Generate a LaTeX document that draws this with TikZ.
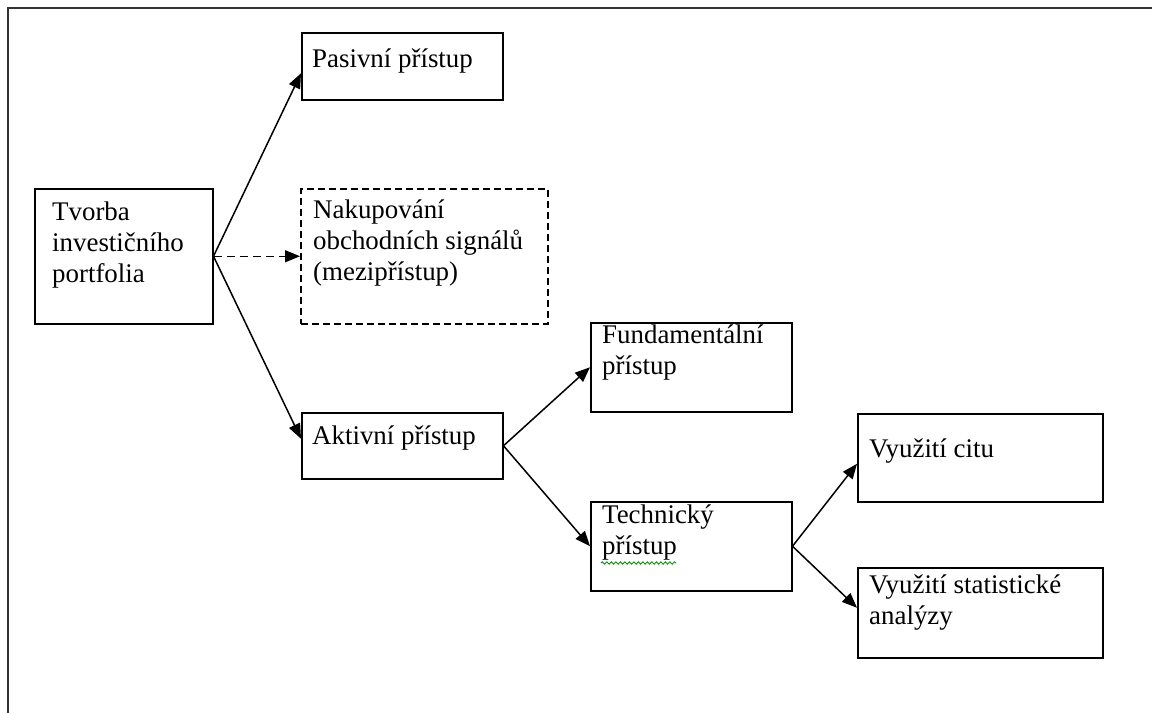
\documentclass[tikz,border=0pt]{standalone}
\usepackage{fontspec}
\setmainfont{Liberation Serif}
\usepackage{tikz}
\usetikzlibrary{arrows.meta,positioning,calc,decorations.pathmorphing}

\begin{document}
\begin{tikzpicture}[
    x=1pt, y=-1pt,
    box/.style={draw, rectangle, line width=1.5pt, inner sep=0pt, anchor=north west},
    dbox/.style={box, dash pattern=on 7pt off 4pt},
    txt/.style={anchor=north west, inner sep=0pt, align=left,
        font=\fontsize{26.9}{31}\selectfont, execute at begin node=\strut},
    conn/.style={line width=1.5pt, -{Triangle[length=15pt,width=12pt]}},
    dconn/.style={conn, dash pattern=on 8pt off 5pt}
]
    \useasboundingbox (0,0) rectangle (1152,713);

    % outer frame
    \draw[line width=2pt, black!80] (8,713) -- (8,8) -- (1152,8);

    % boxes
    \node[box, minimum width=178, minimum height=135] (tvorba) at (34,188) {};
    \node[box, minimum width=201, minimum height=67] (pasivni) at (301,32) {};
    \node[dbox, minimum width=247, minimum height=135] (nakup) at (300,188) {};
    \node[box, minimum width=201, minimum height=66] (aktivni) at (301,412) {};
    \node[box, minimum width=201, minimum height=89] (fundam) at (590,322) {};
    \node[box, minimum width=201, minimum height=89] (technic) at (590,501) {};
    \node[box, minimum width=245, minimum height=88] (cit) at (857,413) {};
    \node[box, minimum width=245, minimum height=90] (statist) at (857,567) {};

    % texts
    \node[txt] (tvorbaT) at ([shift={(18,13.3)}]tvorba.north west) {Tvorba\\investičního\\portfolia};
    \node[txt] (pasivniT) at ([shift={(11,13.3)}]pasivni.north west) {Pasivní přístup};
    \node[txt] (nakupT) at ([shift={(13,11.3)}]nakup.north west) {Nakupování\\obchodních signálů\\(mezipřístup)};
    \node[txt] (aktivniT) at ([shift={(11,10.3)}]aktivni.north west) {Aktivní přístup};
    \node[txt] (fundamT) at ([shift={(12,3)}]fundam.north west) {Fundamentální\\přístup};
    \node[txt] (technicT) at ([shift={(12,4)}]technic.north west) {Technický\\přístup};
    \node[txt] (citT) at ([shift={(12,23)}]cit.north west) {Využití citu};
    \node[txt] (statistT) at ([shift={(12,8)}]statist.north west) {Využití statistické\\analýzy};

    % spell-check underline
    \draw[green!60!black, line width=0.9pt, decorate,
        decoration={snake, amplitude=1.2pt, segment length=4.5pt}]
        ([shift={(11,62)}]technic.north west) -- ([shift={(86,62)}]technic.north west);

    % connectors
    \draw[conn] (tvorba.east) -- ([yshift=-7pt]pasivni.west);
    \draw[dconn] (tvorba.east) -- (nakup.west);
    \draw[conn] (tvorba.east) -- ([yshift=7pt]aktivni.west);
    \draw[conn] (aktivni.east) -- (fundam.west);
    \draw[conn] (aktivni.east) -- (technic.west);
    \draw[conn] (technic.east) -- ([yshift=-6pt]cit.west);
    \draw[conn] (technic.east) -- ([yshift=5pt]statist.west);
\end{tikzpicture}
\end{document}
